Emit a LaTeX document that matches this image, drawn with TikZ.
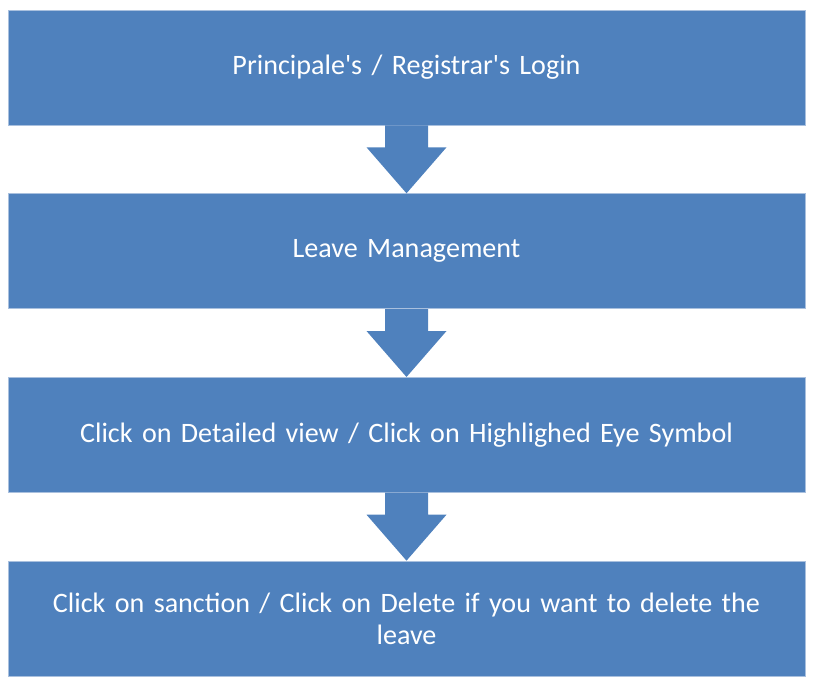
\documentclass[tikz,border=0pt]{standalone}
\usepackage{fontspec}
\setmainfont{Carlito}
\usepackage{tikz}
\usetikzlibrary{positioning,calc}

\definecolor{boxblue}{HTML}{4F81BD}
\definecolor{rimblue}{HTML}{A9C0DE}

% fat block arrow from the bottom of one box to the top of the next
\newcommand{\flowarrow}[2]{%
  \fill[boxblue] ($(#1.south)+(-21.5,0)$) -- ($(#1.south)+(21.5,0)$)
    -- ($(#1.south)+(21.5,22)$) -- ($(#1.south)+(40,22)$) -- (#2.north)
    -- ($(#1.south)+(-40,22)$) -- ($(#1.south)+(-21.5,22)$) -- cycle;}

\begin{document}
\begin{tikzpicture}[x=0.02cm,y=-0.02cm,
  stepbox/.style={rectangle, fill=boxblue, draw=rimblue, line width=0.4pt,
    minimum width=15.94cm, minimum height=2.3cm, text width=15cm,
    align=center, text=white, font=\fontsize{16}{18.4}\selectfont,
    inner sep=0pt}]

\useasboundingbox (0,0) rectangle (813,687);

% the four steps
\node[stepbox] (login) at (406.5,67.5) {Principale\textquotesingle s / Registrar\textquotesingle s Login};
\node[stepbox, below=1.36cm of login] (leave) {Leave Management};
\node[stepbox, below=1.36cm of leave] (detail) {Click on Detailed view / Click on Highlighed Eye Symbol};
\node[stepbox, below=1.36cm of detail] (sanction) {Click on sanction / Click on Delete if you want to delete the\\ leave};

% arrows between the steps
\flowarrow{login}{leave}
\flowarrow{leave}{detail}
\flowarrow{detail}{sanction}

\end{tikzpicture}
\end{document}
